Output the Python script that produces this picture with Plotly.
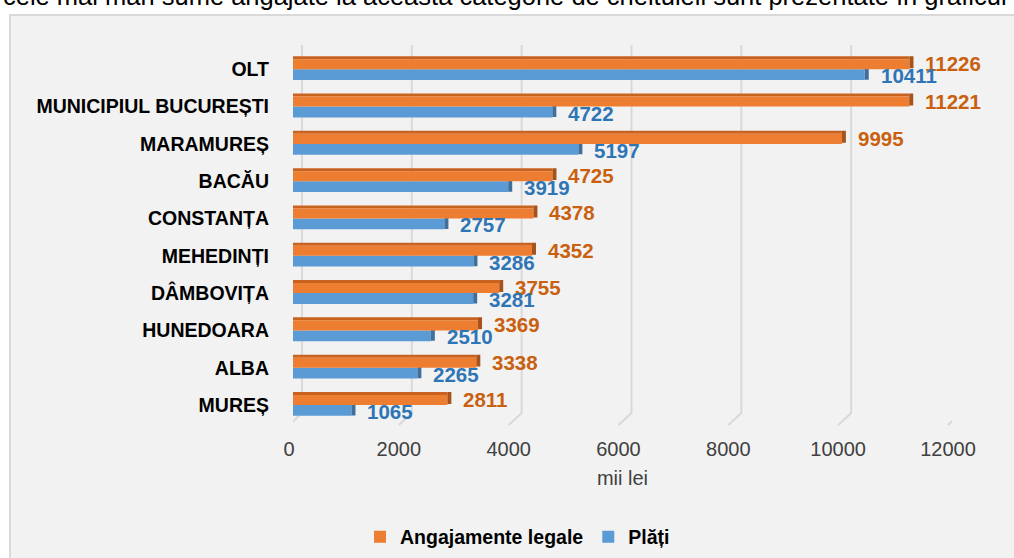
import plotly.graph_objects as go

# Counties with the largest legal commitments and payments (thousand lei)
categories = ["OLT", "MUNICIPIUL BUCUREȘTI", "MARAMUREȘ", "BACĂU", "CONSTANȚA",
              "MEHEDINȚI", "DÂMBOVIȚA", "HUNEDOARA", "ALBA", "MUREȘ"]
angajamente = [11226, 11221, 9995, 4725, 4378, 4352, 3755, 3369, 3338, 2811]
plati = [10411, 4722, 5197, 3919, 2757, 3286, 3281, 2510, 2265, 1065]
x_ticks = [0, 2000, 4000, 6000, 8000, 10000, 12000]
x_tick_labels = ["0", "2000", "4000", "6000", "8000", "10000", "12000"]

W, H = 1014, 558
FONT = "Liberation Sans, Arial, sans-serif"

# plot area in pixels
X0_PX, X1_PX = 293, 952
Y_TOP_PX, Y_BOT_PX = 50.65, 423.65
units_per_px = x_ticks[-1] / (X1_PX - X0_PX)
cap_len = 4 * units_per_px  # visible depth of the bar ends

pos = list(range(len(categories)))
n = len(pos)

ORANGE, ORANGE_TOP, ORANGE_END = "#ed7d31", "#c9621f", "#a8531a"
BLUE, BLUE_END = "#5b9bd5", "#3f6f9c"
ORANGE_TXT, BLUE_TXT = "#c9600f", "#2e75b6"

fig = go.Figure()

common = dict(orientation="h", marker_line_width=0, hoverinfo="skip")

# payments (lower bar of each pair)
fig.add_bar(y=pos, x=plati, offset=0, width=0.29, marker_color=BLUE,
            name="Plăți", legendrank=2, **common)
fig.add_bar(y=pos, x=[cap_len] * n, base=plati, offset=-0.03, width=0.31,
            marker_color=BLUE_END, showlegend=False, **common)

# legal commitments (upper bar of each pair) with a darker top face
fig.add_bar(y=pos, x=angajamente, offset=-0.35, width=0.08, marker_color=ORANGE_TOP,
            showlegend=False, **common)
fig.add_bar(y=pos, x=angajamente, offset=-0.27, width=0.27, marker_color=ORANGE,
            name="Angajamente legale", legendrank=1, **common)
fig.add_bar(y=pos, x=[cap_len] * n, base=angajamente, offset=-0.35, width=0.32,
            marker_color=ORANGE_END, showlegend=False, **common)

annotations = []
for p, a, b in zip(pos, angajamente, plati):
    annotations.append(dict(x=a, y=p, xref="x", yref="y", text=f"{a}", showarrow=False,
                            xanchor="left", yanchor="middle", xshift=14, yshift=5.5,
                            font=dict(family=FONT, size=20.5, color=ORANGE_TXT, weight="bold")))
    annotations.append(dict(x=b, y=p, xref="x", yref="y", text=f"{b}", showarrow=False,
                            xanchor="left", yanchor="middle", xshift=14, yshift=-6.5,
                            font=dict(family=FONT, size=20.5, color=BLUE_TXT, weight="bold")))

# intro sentence running above the chart frame
annotations.append(dict(x=1 / W, y=1, xref="paper", yref="paper", xanchor="left",
                        yanchor="middle", yshift=4, showarrow=False,
                        text="cele mai mari sume angajate la această categorie de cheltuieli sunt prezentate în graficul de mai jos:",
                        font=dict(family=FONT, size=25.5, color="#000000")))

shapes = [
    # chart frame
    dict(type="rect", xref="paper", yref="paper", x0=10 / W, x1=1.05, y0=1 - 15 / H, y1=-0.05,
         fillcolor="#f2f2f2", line=dict(color="#d9d9d9", width=2), layer="below"),
]
# perspective gridlines: back wall plus the slanted floor edge
for g in x_ticks:
    shapes.append(dict(type="path", xref="x", yref="paper", xsizemode="pixel", xanchor=g,
                       path=f"M 9,{1 - 45 / H} L 9,{1 - 413 / H} L -4,{1 - 425 / H}",
                       line=dict(color="#d9d9d9", width=2), layer="below"))

fig.update_layout(
    width=W, height=H,
    margin=dict(l=0, r=0, t=0, b=0, autoexpand=False),
    paper_bgcolor="#ffffff",
    plot_bgcolor="rgba(0,0,0,0)",
    barmode="overlay",
    showlegend=True,
    legend=dict(orientation="h", x=360 / W, y=1 - 537 / H, xanchor="left", yanchor="middle",
                bgcolor="rgba(0,0,0,0)", traceorder="normal",
                font=dict(family=FONT, size=19.5, color="#000000", weight="bold")),
    xaxis=dict(domain=[X0_PX / W, X1_PX / W], range=[0, x_ticks[-1]], tickvals=x_ticks,
               ticktext=x_tick_labels, automargin=False,
               showgrid=False, zeroline=False, showline=False, ticks="",
               ticklabelshift=-4, ticklabelstandoff=11,
               tickfont=dict(family=FONT, size=20, color="#404040"),
               title=dict(text="mii lei", standoff=12,
                          font=dict(family=FONT, size=20, color="#404040"))),
    yaxis=dict(domain=[1 - Y_BOT_PX / H, 1 - Y_TOP_PX / H], range=[n - 0.5, -0.5],
               tickvals=pos, ticktext=categories, showgrid=False, zeroline=False,
               showline=False, ticks="", ticklabelstandoff=23, automargin=False,
               tickfont=dict(family=FONT, size=19.5, color="#000000", weight="bold")),
    annotations=annotations,
    shapes=shapes,
)

fig.write_html("out.html")
